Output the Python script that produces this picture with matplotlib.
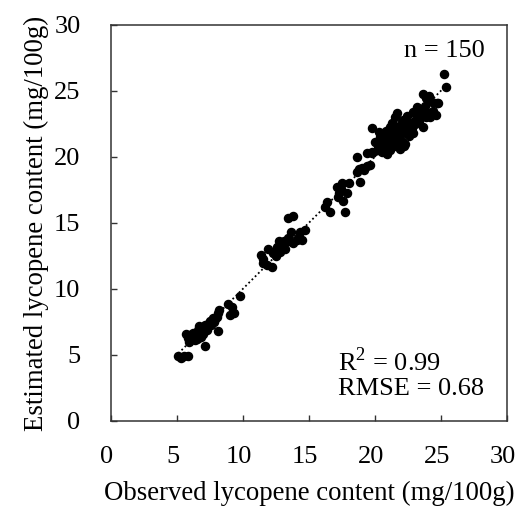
import matplotlib
matplotlib.use("Agg")
import matplotlib.pyplot as plt
import matplotlib.transforms as mtransforms
import numpy as np

plt.rcParams['font.family'] = ['Liberation Serif', 'DejaVu Serif']
plt.rcParams['mathtext.fontset'] = 'custom'
plt.rcParams['mathtext.rm'] = 'Liberation Serif'

# observed / estimated lycopene content (mg/100g)
observed = [
    5.1, 5.3, 5.5, 5.8, 5.7, 5.8, 5.9, 6.1, 6.3, 6.2, 6.4, 6.6, 6.8, 6.6, 6.7,
    6.9, 7.0, 7.1, 7.1, 7.3, 7.4, 7.5, 7.6, 7.8, 7.9, 8.0, 8.1, 8.1, 8.2, 7.7,
    8.9, 9.2, 9.0, 9.3, 9.8, 6.5, 7.2, 5.9,
    11.4, 11.5, 11.5, 11.8, 12.2, 11.9, 12.3, 12.6, 12.7, 12.8, 13.0, 13.2, 13.4,
    13.5, 13.4, 13.8, 13.6, 13.8, 14.1, 14.3, 14.5, 14.7, 14.2, 13.1, 12.5,
    16.2, 16.4, 16.6, 17.1, 17.3, 17.2, 17.6, 17.9, 18.0, 17.7, 17.5, 18.9, 18.6,
    19.0, 19.4, 19.6, 18.6, 19.4, 19.8, 20.2, 20.5, 19.2, 18.8, 17.4,
    19.8, 20.0, 20.2, 19.8, 20.5, 20.9, 21.1, 21.4, 21.1, 20.8, 21.4, 21.7, 21.9,
    22.1, 22.4, 22.7, 21.7, 21.5, 23.2, 22.9, 23.4, 23.9, 23.6, 24.7, 24.3, 23.9,
    25.2, 25.4, 20.4, 20.7, 21.0, 21.2, 21.6, 21.8, 22.0, 22.2, 22.3, 22.5, 22.6,
    22.8, 23.0, 23.1, 23.3, 23.5, 23.7, 24.0, 24.2, 24.4, 24.8, 22.0, 21.3, 20.3,
    22.4, 23.8, 24.1, 24.6, 20.9, 21.6, 22.9, 23.6, 20.6, 22.2, 21.9,
]
estimated = [
    4.9, 4.8, 4.9, 4.9, 6.6, 6.3, 6.0, 6.2, 6.4, 6.7, 6.1, 6.3, 6.4, 6.9, 7.2,
    7.0, 6.6, 5.7, 7.3, 6.9, 7.4, 7.6, 7.3, 7.5, 7.7, 7.9, 6.8, 8.2, 8.4, 7.8,
    8.9, 8.6, 8.0, 8.2, 9.5, 6.2, 7.0, 6.5,
    12.6, 12.0, 12.3, 11.8, 11.7, 13.0, 12.7, 13.2, 13.6, 12.8, 13.3, 13.0, 13.9,
    13.6, 15.4, 15.5, 14.3, 13.5, 13.7, 14.3, 13.7, 14.5, 13.9, 13.6, 12.5,
    16.2, 16.6, 15.8, 17.7, 17.3, 17.0, 16.7, 17.3, 18.0, 15.8, 18.0, 18.1, 18.9,
    19.2, 19.3, 19.4, 20.0, 20.3, 20.4, 20.5, 20.8, 19.0, 19.1, 17.6,
    22.2, 21.1, 20.8, 20.3, 20.4, 20.8, 20.5, 21.1, 22.3, 22.0, 21.8, 21.4, 22.0,
    22.8, 22.4, 22.6, 23.3, 23.0, 23.8, 23.4, 23.3, 23.0, 24.8, 24.1, 24.2, 24.5,
    26.3, 25.3, 21.5, 21.2, 21.6, 21.0, 20.8, 21.7, 21.3, 21.9, 21.0, 22.0, 21.6,
    22.2, 22.5, 22.9, 22.7, 23.1, 23.6, 23.3, 23.0, 23.5, 24.1, 22.5, 22.6, 21.9,
    23.1, 23.9, 24.6, 23.2, 20.2, 22.1, 21.8, 22.3, 20.6, 20.8, 20.6,
]
ticks = [0, 5, 10, 15, 20, 25, 30]

obs = np.array(observed)
est = np.array(estimated)
slope, intercept = np.polyfit(obs, est, 1)
xfit = np.array([obs.min(), obs.max()])

fig = plt.figure(figsize=(5.18, 5.09), dpi=100)
ax = fig.add_axes([0.2143, 0.1729, 0.7645, 0.778])

ax.plot(xfit, slope * xfit + intercept, color='black', linestyle=(0, (1, 1.5)),
        linewidth=1.3, zorder=1)
ax.scatter(obs, est, s=34, color='black', zorder=2)

ax.set_xlim(0, 30)
ax.set_ylim(0, 30)
ax.set_xticks(ticks)
ax.set_yticks(ticks)
ax.tick_params(direction='in', length=4, width=1, labelsize=19, colors='#333333',
               labelcolor='black')
ax.tick_params(axis='x', pad=18)
ax.tick_params(axis='y', pad=22)
for sp in ax.spines.values():
    sp.set_linewidth(1.1)
    sp.set_color('#333333')

# x tick labels sit a little left of their ticks in the original
shift = mtransforms.ScaledTranslation(-4 / 100, 0, fig.dpi_scale_trans)
for lbl in ax.get_xticklabels():
    lbl.set_transform(lbl.get_transform() + shift)

ax.set_xlabel('Observed lycopene content (mg/100g)', fontsize=19.3, labelpad=9)
ax.set_ylabel('Estimated lycopene content (mg/100g)', fontsize=19.3, labelpad=4)

ax.text(0.944, 0.919, 'n = 150', transform=ax.transAxes, ha='right',
        va='baseline', fontsize=19)
ax.text(0.573, 0.126, 'R$^{2}$ = 0.99', transform=ax.transAxes, ha='left',
        va='baseline', fontsize=19)
ax.text(0.573, 0.066, 'RMSE = 0.68', transform=ax.transAxes, ha='left',
        va='baseline', fontsize=19)

fig.savefig('out.png', dpi=100)
